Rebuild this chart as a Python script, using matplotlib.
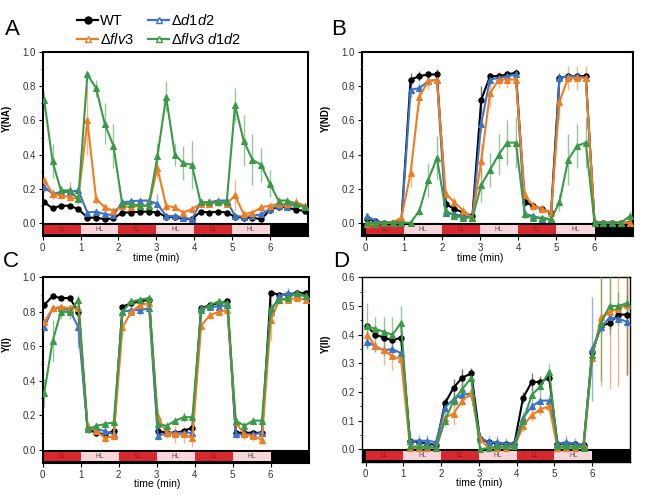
import matplotlib
matplotlib.use("Agg")
import matplotlib.pyplot as plt
from matplotlib.lines import Line2D
from matplotlib.patches import Rectangle

plt.rcParams['font.family'] = ['Liberation Sans', 'DejaVu Sans']
plt.rcParams['mathtext.fontset'] = 'custom'
plt.rcParams['mathtext.it'] = 'Liberation Sans:italic'
plt.rcParams['mathtext.rm'] = 'Liberation Sans'

# Data ########################################################

time = [0.04, 0.26, 0.48, 0.71, 0.94, 1.18, 1.41, 1.64, 1.87, 2.10, 2.33, 2.56, 2.80,
        3.03, 3.26, 3.49, 3.71, 3.94, 4.17, 4.40, 4.63, 4.86, 5.08, 5.31, 5.54, 5.77,
        6.00, 6.23, 6.46, 6.69, 6.93]

phases = ['LL', 'HL', 'LL', 'HL', 'LL', 'HL', 'dark']
strains = ['WT', 'Δ$\\mathit{d1d2}$', 'Δ$\\mathit{flv3}$', 'Δ$\\mathit{flv3\\ d1d2}$']

# Y(NA)
na_wt = [0.12, 0.085, 0.10, 0.10, 0.08, 0.03, 0.03, 0.02, 0.025, 0.06, 0.06, 0.065, 0.065, 0.06, 0.035, 0.035,
         0.025, 0.02, 0.065, 0.06, 0.065, 0.06, 0.035, 0.03, 0.03, 0.02, 0.075, 0.095, 0.09, 0.075, 0.07]
na_d1d2 = [0.21, 0.17, 0.18, 0.18, 0.19, 0.06, 0.065, 0.05, 0.045, 0.12, 0.125, 0.13, 0.13, 0.11, 0.04, 0.04,
           0.03, 0.02, 0.12, 0.12, 0.13, 0.13, 0.04, 0.035, 0.04, 0.05, 0.08, 0.10, 0.095, 0.11, 0.09]
na_flv3 = [0.25, 0.17, 0.16, 0.15, 0.14, 0.60, 0.14, 0.09, 0.07, 0.10, 0.09, 0.10, 0.10, 0.32, 0.10, 0.09,
           0.06, 0.08, 0.11, 0.11, 0.12, 0.11, 0.16, 0.05, 0.06, 0.09, 0.10, 0.11, 0.11, 0.12, 0.10]
na_flv3d1d2 = [0.72, 0.36, 0.19, 0.19, 0.14, 0.87, 0.79, 0.58, 0.45, 0.11, 0.11, 0.10, 0.10, 0.39, 0.74, 0.40,
               0.35, 0.34, 0.12, 0.12, 0.12, 0.12, 0.69, 0.48, 0.37, 0.34, 0.23, 0.13, 0.13, 0.11, 0.09]
na_wt_err = [0.01] * 31
na_d1d2_err = [0.03, 0.03, 0.02, 0.02, 0.03, 0.01, 0.02, 0.01, 0.01, 0.02, 0.02, 0.02, 0.02, 0.06, 0.01, 0.01,
               0.01, 0.01, 0.02, 0.02, 0.02, 0.02, 0.01, 0.01, 0.01, 0.01, 0.01, 0.01, 0.01, 0.02, 0.01]
na_flv3_err = [0.02, 0.02, 0.02, 0.02, 0.02, 0.20, 0.03, 0.02, 0.02, 0.02, 0.02, 0.02, 0.02, 0.06, 0.03, 0.02,
               0.02, 0.02, 0.02, 0.02, 0.02, 0.02, 0.09, 0.02, 0.02, 0.02, 0.02, 0.02, 0.02, 0.03, 0.02]
na_flv3d1d2_err = [0.05, 0.10, 0.03, 0.05, 0.03, 0.02, 0.05, 0.12, 0.13, 0.02, 0.02, 0.02, 0.02, 0.08, 0.09, 0.07,
                   0.10, 0.14, 0.02, 0.02, 0.02, 0.02, 0.10, 0.15, 0.15, 0.10, 0.08, 0.02, 0.02, 0.02, 0.02]

# Y(ND)
nd_wt = [0.02, 0.01, 0.0, 0.0, 0.01, 0.84, 0.86, 0.87, 0.87, 0.11, 0.08, 0.06, 0.04, 0.72, 0.86, 0.86,
         0.87, 0.88, 0.12, 0.10, 0.08, 0.06, 0.85, 0.86, 0.86, 0.86, 0.0, 0.0, 0.0, 0.0, 0.0]
nd_d1d2 = [0.04, 0.01, 0.0, 0.0, 0.0, 0.78, 0.79, 0.83, 0.84, 0.06, 0.05, 0.04, 0.03, 0.58, 0.84, 0.85,
           0.86, 0.87, 0.05, 0.04, 0.02, 0.02, 0.85, 0.86, 0.86, 0.85, 0.0, 0.0, 0.0, 0.0, 0.0]
nd_flv3 = [-0.01, -0.01, 0.0, 0.0, 0.03, 0.29, 0.74, 0.83, 0.84, 0.17, 0.12, 0.07, 0.03, 0.36, 0.76, 0.84,
           0.84, 0.84, 0.16, 0.10, 0.08, 0.06, 0.71, 0.85, 0.85, 0.85, 0.0, 0.0, 0.0, 0.0, 0.0]
nd_flv3d1d2 = [0.0, -0.005, 0.0, 0.0, 0.0, 0.0, 0.07, 0.25, 0.38, 0.07, 0.04, 0.03, 0.03, 0.22, 0.31, 0.40,
               0.47, 0.47, 0.05, 0.03, 0.03, 0.02, 0.12, 0.37, 0.45, 0.47, 0.0, 0.0, 0.0, 0.0, 0.04]
nd_wt_err = [0.01, 0.01, 0.01, 0.01, 0.01, 0.04, 0.03, 0.02, 0.03, 0.03, 0.02, 0.02, 0.01, 0.08, 0.02, 0.02,
             0.02, 0.02, 0.02, 0.02, 0.01, 0.01, 0.03, 0.02, 0.02, 0.02, 0.01, 0.01, 0.01, 0.01, 0.01]
nd_d1d2_err = [0.02, 0.01, 0.01, 0.01, 0.01, 0.05, 0.03, 0.03, 0.03, 0.02, 0.02, 0.02, 0.01, 0.05, 0.03, 0.02,
               0.02, 0.02, 0.02, 0.02, 0.01, 0.01, 0.03, 0.02, 0.02, 0.02, 0.01, 0.01, 0.01, 0.01, 0.01]
nd_flv3_err = [0.01, 0.01, 0.01, 0.01, 0.01, 0.08, 0.05, 0.05, 0.04, 0.03, 0.03, 0.03, 0.01, 0.10, 0.08, 0.05,
               0.05, 0.05, 0.03, 0.03, 0.03, 0.02, 0.10, 0.07, 0.07, 0.07, 0.01, 0.01, 0.01, 0.01, 0.01]
nd_flv3d1d2_err = [0.01, 0.01, 0.01, 0.01, 0.01, 0.01, 0.03, 0.10, 0.13, 0.02, 0.01, 0.01, 0.01, 0.10, 0.10, 0.12,
                   0.13, 0.15, 0.02, 0.01, 0.01, 0.01, 0.05, 0.15, 0.13, 0.15, 0.01, 0.01, 0.01, 0.01, 0.03]

# Y(I)
i_wt = [0.84, 0.89, 0.88, 0.88, 0.80, 0.12, 0.10, 0.09, 0.11, 0.83, 0.85, 0.86, 0.87, 0.11, 0.10, 0.10,
        0.11, 0.13, 0.82, 0.84, 0.85, 0.86, 0.10, 0.10, 0.10, 0.10, 0.91, 0.90, 0.90, 0.91, 0.91]
i_d1d2 = [0.71, 0.82, 0.82, 0.81, 0.71, 0.12, 0.12, 0.11, 0.09, 0.80, 0.81, 0.81, 0.82, 0.08, 0.10, 0.10,
          0.10, 0.10, 0.82, 0.83, 0.83, 0.84, 0.09, 0.09, 0.09, 0.10, 0.80, 0.89, 0.91, 0.90, 0.89]
i_flv3 = [0.74, 0.82, 0.83, 0.82, 0.82, 0.14, 0.11, 0.07, 0.08, 0.71, 0.80, 0.84, 0.85, 0.19, 0.10, 0.09,
          0.09, 0.07, 0.72, 0.78, 0.80, 0.81, 0.16, 0.09, 0.08, 0.06, 0.75, 0.87, 0.87, 0.88, 0.87]
i_flv3d1d2 = [0.33, 0.63, 0.80, 0.80, 0.87, 0.12, 0.14, 0.15, 0.16, 0.80, 0.86, 0.87, 0.88, 0.15, 0.14, 0.17,
              0.19, 0.19, 0.81, 0.84, 0.86, 0.85, 0.17, 0.14, 0.17, 0.17, 0.82, 0.87, 0.88, 0.91, 0.89]
i_wt_err = [0.01] * 31
i_d1d2_err = [0.02, 0.02, 0.02, 0.03, 0.12, 0.02, 0.03, 0.03, 0.02, 0.02, 0.02, 0.03, 0.02, 0.02, 0.02, 0.02,
              0.02, 0.02, 0.02, 0.02, 0.02, 0.02, 0.02, 0.02, 0.02, 0.02, 0.03, 0.02, 0.03, 0.02, 0.02]
i_flv3_err = [0.02, 0.02, 0.02, 0.02, 0.02, 0.02, 0.02, 0.03, 0.02, 0.05, 0.02, 0.02, 0.02, 0.04, 0.03, 0.05,
              0.05, 0.05, 0.02, 0.02, 0.02, 0.02, 0.03, 0.03, 0.03, 0.03, 0.12, 0.02, 0.02, 0.02, 0.02]
i_flv3d1d2_err = [0.08, 0.12, 0.04, 0.04, 0.03, 0.02, 0.02, 0.02, 0.02, 0.02, 0.02, 0.02, 0.02, 0.02, 0.02, 0.02,
                  0.03, 0.03, 0.02, 0.02, 0.02, 0.02, 0.02, 0.02, 0.02, 0.02, 0.03, 0.02, 0.02, 0.02, 0.02]

# Y(II)
ii_wt = [0.43, 0.40, 0.39, 0.38, 0.39, 0.03, 0.025, 0.02, 0.015, 0.16, 0.215, 0.25, 0.265, 0.035, 0.025, 0.02,
         0.02, 0.02, 0.18, 0.235, 0.235, 0.25, 0.02, 0.02, 0.02, 0.015, 0.34, 0.43, 0.44, 0.47, 0.47]
ii_d1d2 = [0.375, 0.36, 0.345, 0.35, 0.335, 0.03, 0.03, 0.03, 0.025, 0.145, 0.175, 0.19, 0.195, 0.04, 0.025, 0.025,
           0.02, 0.02, 0.11, 0.15, 0.17, 0.17, 0.02, 0.025, 0.02, 0.015, 0.35, 0.425, 0.46, 0.455, 0.445]
ii_flv3 = [0.40, 0.36, 0.345, 0.325, 0.315, 0.005, 0.005, 0.005, 0.005, 0.11, 0.125, 0.17, 0.195, 0.035, 0.005, 0.005,
           0.005, 0.01, 0.08, 0.12, 0.14, 0.15, 0.005, 0.005, 0.005, 0.01, 0.32, 0.46, 0.48, 0.49, 0.505]
ii_flv3d1d2 = [0.43, 0.42, 0.41, 0.40, 0.44, 0.01, 0.01, 0.01, 0.005, 0.10, 0.17, 0.21, 0.25, 0.0, 0.005, 0.01,
               0.01, 0.01, 0.10, 0.19, 0.22, 0.27, 0.01, 0.01, 0.01, 0.005, 0.33, 0.44, 0.50, 0.50, 0.51]
ii_wt_err = [0.01, 0.01, 0.01, 0.01, 0.01, 0.01, 0.01, 0.01, 0.01, 0.02, 0.03, 0.03, 0.02, 0.01, 0.01, 0.01,
             0.01, 0.01, 0.02, 0.03, 0.02, 0.02, 0.01, 0.01, 0.01, 0.01, 0.02, 0.02, 0.02, 0.02, 0.21]
ii_d1d2_err = [0.02, 0.02, 0.02, 0.02, 0.02, 0.02, 0.02, 0.02, 0.02, 0.02, 0.02, 0.02, 0.02, 0.02, 0.02, 0.02,
               0.02, 0.01, 0.02, 0.02, 0.02, 0.02, 0.02, 0.02, 0.02, 0.02, 0.18, 0.02, 0.02, 0.02, 0.02]
ii_flv3_err = [0.02, 0.02, 0.05, 0.05, 0.03, 0.01, 0.01, 0.01, 0.01, 0.02, 0.04, 0.02, 0.02, 0.01, 0.01, 0.01,
               0.01, 0.01, 0.02, 0.02, 0.02, 0.02, 0.01, 0.01, 0.01, 0.01, 0.02, 0.24, 0.27, 0.27, 0.25]
ii_flv3d1d2_err = [0.08, 0.04, 0.05, 0.06, 0.06, 0.01, 0.01, 0.01, 0.01, 0.02, 0.02, 0.02, 0.03, 0.01, 0.01, 0.01,
                   0.01, 0.01, 0.02, 0.02, 0.03, 0.03, 0.01, 0.01, 0.01, 0.01, 0.02, 0.20, 0.10, 0.05, 0.03]

# Style #######################################################

colors = ['#000000', '#3b73c5', '#ef7d22', '#3a9a48']
markers = ['o', '^', '^', '^']
phase_colors = {'LL': '#d8272d', 'HL': '#f8d5da', 'dark': '#000000'}
phase_text = {'LL': '#8a1a1a', 'HL': '#555555'}

panels = [
    ('A', 'Y(NA)', [na_wt, na_d1d2, na_flv3, na_flv3d1d2],
     [na_wt_err, na_d1d2_err, na_flv3_err, na_flv3d1d2_err],
     [0.0657, 0.5232, 0.4077, 0.3711], (0.0, 7.0), (-0.078, 1.0), 0.2, 1.5),
    ('B', 'Y(ND)', [nd_wt, nd_d1d2, nd_flv3, nd_flv3d1d2],
     [nd_wt_err, nd_d1d2_err, nd_flv3_err, nd_flv3d1d2_err],
     [0.5565, 0.5232, 0.4169, 0.3711], (-0.1, 7.0), (-0.078, 1.0), 0.2, 1.5),
    ('C', 'Y(I)', [i_wt, i_d1d2, i_flv3, i_flv3d1d2],
     [i_wt_err, i_d1d2_err, i_flv3_err, i_flv3d1d2_err],
     [0.0657, 0.0653, 0.4092, 0.3745], (0.0, 7.0), (-0.0735, 1.0), 0.2, 1.5),
    ('D', 'Y(II)', [ii_wt, ii_d1d2, ii_flv3, ii_flv3d1d2],
     [ii_wt_err, ii_d1d2_err, ii_flv3_err, ii_flv3d1d2_err],
     [0.5565, 0.0673, 0.4128, 0.3725], (-0.1, 7.0), (-0.043, 0.6), 0.1, 1.0),
]
letter_pos = {'A': (0.008, 0.962), 'B': (0.51, 0.962), 'C': (0.005, 0.492), 'D': (0.512, 0.492)}

# Plot ########################################################

fig = plt.figure(figsize=(6.5, 4.95), dpi=100)

for letter, ylab, series, errs, rect, xlim, ylim, ystep, spw in panels:
    ax = fig.add_axes(rect)
    ax.set_xlim(*xlim)
    ax.set_ylim(*ylim)

    # light regime strip below zero
    y0 = ylim[0]
    h = -y0
    ax.add_patch(Rectangle((xlim[0], y0), xlim[1] - xlim[0], h, facecolor='black',
                           edgecolor='none', zorder=1, clip_on=False))
    for i, ph in enumerate(phases):
        ax.add_patch(Rectangle((i, y0 + h * 0.12), 1, h * 0.72, facecolor=phase_colors[ph],
                               edgecolor='none', zorder=2))
        if ph in phase_text:
            ax.text(i + 0.5, y0 + h * 0.48, ph, fontsize=4.8, color=phase_text[ph],
                    ha='center', va='center', zorder=3)
    ax.axhline(0, color='black', lw=0.8, zorder=2)

    for vals, err, c, m in zip(series, errs, colors, markers):
        ax.errorbar(time, vals, yerr=err, fmt='none', ecolor=c, elinewidth=1.0,
                    alpha=0.55, zorder=3)
    order = [0, 1, 3, 2]
    for k in order:
        ax.plot(time, series[k], color=colors[k], marker=markers[k], markersize=3.8,
                lw=1.5, markeredgewidth=0.8, zorder=4 + k * 0.1)

    n_major = int(round(ylim[1] / ystep))
    ax.set_yticks([round(ystep * j, 2) for j in range(n_major + 1)])
    ax.set_yticks([round(ystep * (j + 0.5), 3) for j in range(n_major)], minor=True)
    ax.set_xticks(range(7))
    ax.tick_params(axis='both', direction='out', length=3, width=0.8, labelsize=7,
                   labelcolor='#333333', pad=2)
    ax.tick_params(axis='y', which='minor', length=1.5, width=0.6)
    ax.yaxis.set_major_formatter(plt.FormatStrFormatter('%.1f'))
    for sp in ax.spines.values():
        sp.set_linewidth(spw)

    ax.set_ylabel(ylab, fontsize=7, fontweight='bold')
    ax.yaxis.set_label_coords(-0.115, 0.64)
    ax.set_xlabel('time (min)', fontsize=7.5)
    ax.xaxis.set_label_coords((3 - xlim[0]) / (xlim[1] - xlim[0]), -0.09)

    fig.text(letter_pos[letter][0], letter_pos[letter][1], letter, fontsize=16,
             va='top', ha='left')

handles = []
for c, m, lab in zip(colors, markers, strains):
    face = c if m == 'o' else 'white'
    handles.append(Line2D([], [], color=c, marker=m, markersize=5, lw=1.6,
                          markerfacecolor=face, markeredgecolor=c, label=lab))
order_leg = [0, 2, 1, 3]
fig.legend([handles[k] for k in order_leg], [strains[k] for k in order_leg], ncol=2,
           loc='upper left', bbox_to_anchor=(0.11, 0.985), frameon=False, fontsize=10.5,
           handlelength=1.4, handletextpad=0.15, columnspacing=1.0, labelspacing=0.25,
           borderaxespad=0.0)

fig.savefig('out.png', dpi=100)
